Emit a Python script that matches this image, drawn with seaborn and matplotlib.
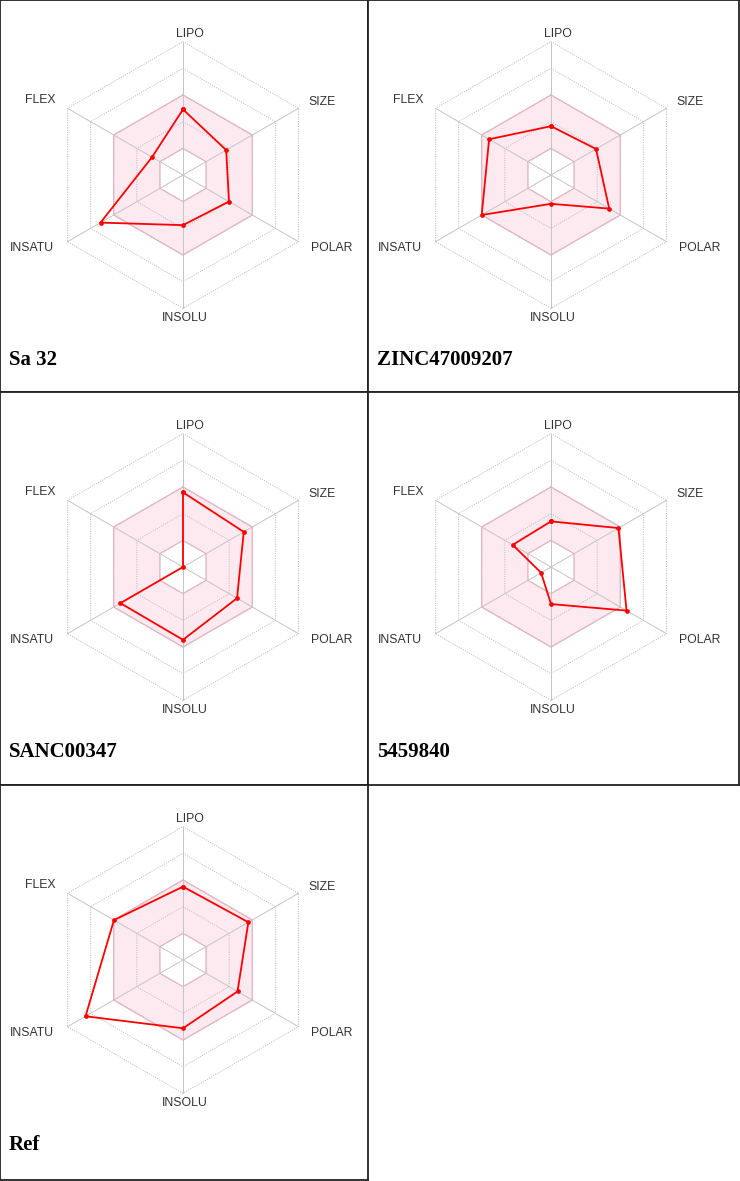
import numpy as np
import matplotlib
matplotlib.use('Agg')
import matplotlib.pyplot as plt
import seaborn as sns

# bioavailability radar values, in grid-ring units (0 = centre, 5 = outer ring)
props = ['LIPO', 'SIZE', 'POLAR', 'INSOLU', 'INSATU', 'FLEX']
names = ['Sa 32', 'ZINC47009207', 'SANC00347', '5459840', 'Ref']
sa32 = [2.46, 1.87, 1.99, 1.88, 3.57, 1.34]
zinc47009207 = [1.83, 1.95, 2.52, 1.08, 3.00, 2.68]
sanc00347 = [2.80, 2.63, 2.34, 2.73, 2.71, 0.00]
c5459840 = [1.71, 2.92, 3.27, 1.39, 0.43, 1.66]
ref = [2.75, 2.83, 2.36, 2.56, 4.22, 2.99]
all_vals = [sa32, zinc47009207, sanc00347, c5459840, ref]

# optimal (pink) band, ring units
band_lo, band_hi = 1, 3
n_rings = 5

sns.set_style('white')
plt.rcParams['font.family'] = ['Liberation Sans', 'DejaVu Sans']

W, H = 740, 1181
fig = plt.figure(figsize=(W / 100, H / 100), dpi=100)

col_x = [0, 368]
col_w = [368, 371]
row_y = [0, 392, 785]
row_h = [392, 393, 395]
cx, cy = 183, 175      # radar centre inside each cell, px
step = 26.67           # px per ring
lab_off = [(7, -141), (139, -73), (149, 73), (2, 143), (-151, 73), (-143, -75)]

theta = np.arange(len(props)) * np.pi / 3


def hexpts(r):
    t = np.append(theta, theta[0])
    return cx + r * step * np.sin(t), cy - r * step * np.cos(t)


def radar(ax, vals, name):
    # pink optimal band with white hole
    ox, oy = hexpts(band_hi)
    ix, iy = hexpts(band_lo)
    ax.fill(ox, oy, color='#fdeaf1', zorder=1)
    ax.fill(ix, iy, color='white', zorder=1)
    ax.plot(ox, oy, color='#f3b3c3', lw=0.9, zorder=2)
    ax.plot(ix, iy, color='#f3b3c3', lw=0.9, zorder=2)

    # grid
    for r in range(1, n_rings + 1):
        gx, gy = hexpts(r)
        ax.plot(gx, gy, color='#bdbdbd', lw=0.75, ls=(0, (1, 1.3)), zorder=3)
    for t in theta:
        ax.plot([cx, cx + n_rings * step * np.sin(t)],
                [cy, cy - n_rings * step * np.cos(t)],
                color='#c4c4c4', lw=0.7, zorder=3)

    # compound profile
    v = np.array(vals + vals[:1])
    t = np.append(theta, theta[0])
    xs = cx + v * step * np.sin(t)
    ys = cy - v * step * np.cos(t)
    sns.lineplot(x=xs, y=ys, sort=False, estimator=None, color='#ff0000',
                 lw=1.3, marker='o', markersize=3.4, markeredgewidth=0,
                 ax=ax, zorder=5)

    for lab, (dx, dy) in zip(props, lab_off):
        ax.text(cx + dx, cy + dy, lab, ha='center', va='center',
                fontsize=8.8, color='#333333')

    ax.text(9, 360, name, ha='left', va='center', fontsize=15,
            fontweight='bold', family=['Liberation Serif', 'DejaVu Serif'],
            color='black')


for i, (vals, name) in enumerate(zip(all_vals, names)):
    col, row = i % 2, i // 2
    w, h = col_w[col], row_h[row]
    ax = fig.add_axes([col_x[col] / W, 1 - (row_y[row] + h) / H, w / W, h / H])
    ax.set_xlim(0, w)
    ax.set_ylim(h, 0)
    radar(ax, vals, name)
    ax.set_xticks([])
    ax.set_yticks([])
    ax.set_xlabel('')
    ax.set_ylabel('')
    for sp in ax.spines.values():
        sp.set_visible(True)
        sp.set_color('#222222')
        sp.set_linewidth(1.3)

fig.savefig('out.png', dpi=100)
